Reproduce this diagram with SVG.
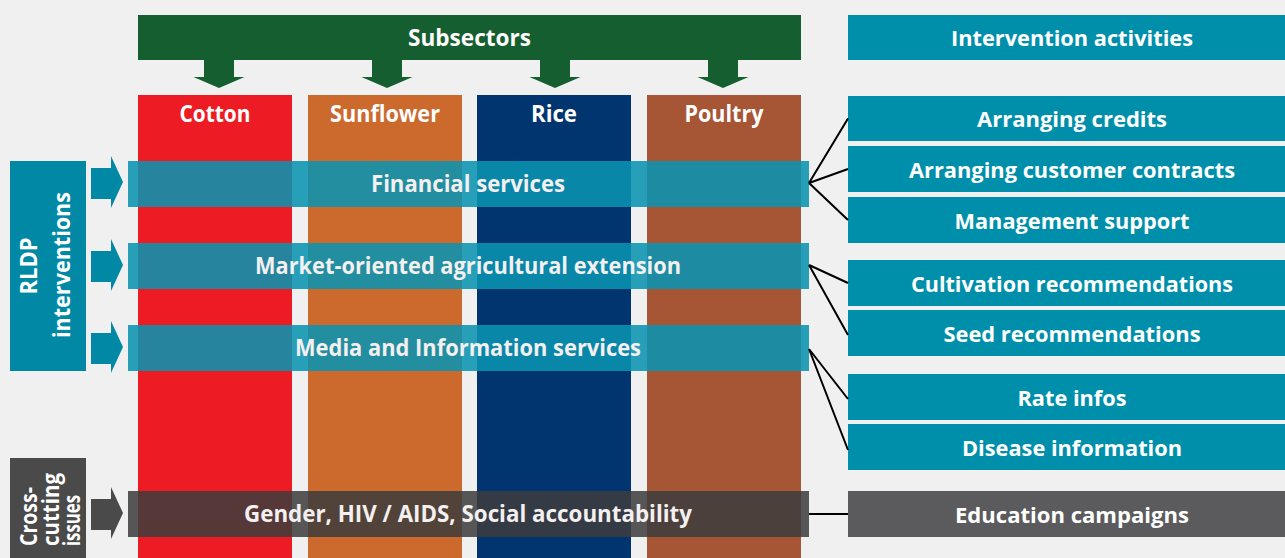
<svg xmlns="http://www.w3.org/2000/svg" width="1285" height="558" viewBox="0 0 1285 558">
  <style>
    .lbl { font-family: "Open Sans", "Liberation Sans", sans-serif; font-weight: 700; font-size: 22px; fill: #ffffff; text-anchor: middle; }
    .big { font-size: 24px; }
    .soft { fill: #f4f0f0; }
    .start { text-anchor: start; }
    .teal { fill: #008faa; }
    .gray { fill: #5b5b5d; }
    .band { fill: #0a93b0; opacity: 0.88; }
    .band-gray { fill: #3c3c3c; opacity: 0.86; }
    .link { stroke: #000000; stroke-width: 2; fill: none; }
  </style>
  <defs>
    <!-- right-pointing block arrow, tip at the origin -->
    <path id="arrowR" d="M-32,-15 H-12 V-27 L0,-1 L-12,25 V16 H-32 Z"/>
    <!-- downward block arrow, tip at the origin -->
    <path id="arrowD" d="M-15,-28 H15 V-11 H25.5 L0,0 L-25.5,-11 H-15 Z" fill="#155e2f"/>
  </defs>

  <rect width="1285" height="558" fill="#f0f0f0"/>

  <!-- subsector header and columns -->
  <g id="subsectors">
    <rect x="138" y="15" width="663" height="45" fill="#155e2f"/>
    <text class="lbl big" x="469.5" y="46" textLength="123" lengthAdjust="spacingAndGlyphs">Subsectors</text>
    <use href="#arrowD" x="219" y="88"/>
    <use href="#arrowD" x="387" y="88"/>
    <use href="#arrowD" x="555" y="88"/>
    <use href="#arrowD" x="723" y="88"/>
  </g>
  <g id="cotton">
    <rect x="138" y="95" width="154" height="463" fill="#ed1c24"/>
    <text class="lbl big" x="215" y="122" textLength="71" lengthAdjust="spacingAndGlyphs">Cotton</text>
  </g>
  <g id="sunflower">
    <rect x="308" y="95" width="154" height="463" fill="#cc6a2e"/>
    <text class="lbl big" x="385" y="122" textLength="110" lengthAdjust="spacingAndGlyphs">Sunflower</text>
  </g>
  <g id="rice">
    <rect x="477" y="95" width="154" height="463" fill="#003570"/>
    <text class="lbl big" x="554" y="122" textLength="46" lengthAdjust="spacingAndGlyphs">Rice</text>
  </g>
  <g id="poultry">
    <rect x="647" y="95" width="154" height="463" fill="#a65535"/>
    <text class="lbl big" x="724" y="122" textLength="79" lengthAdjust="spacingAndGlyphs">Poultry</text>
  </g>

  <!-- left-hand side: intervention groups -->
  <g id="rldp-interventions">
    <rect x="10" y="161" width="76" height="210" fill="#0088a5"/>
    <text class="lbl big" transform="translate(37,266) rotate(-90)" x="0" y="0" textLength="57" lengthAdjust="spacingAndGlyphs">RLDP</text>
    <text class="lbl big" transform="translate(70,265) rotate(-90)" x="0" y="0" textLength="146" lengthAdjust="spacingAndGlyphs">interventions</text>
    <use href="#arrowR" x="123" y="183" fill="#0088a5"/>
    <use href="#arrowR" x="123" y="266" fill="#0088a5"/>
    <use href="#arrowR" x="123" y="348" fill="#0088a5"/>
  </g>
  <g id="cross-cutting">
    <rect x="10" y="458" width="76" height="100" fill="#4a4a4a"/>
    <text class="lbl big start" transform="translate(37,546) rotate(-90)" x="0" y="0" textLength="59" lengthAdjust="spacingAndGlyphs">Cross-</text>
    <text class="lbl big start" transform="translate(59,546) rotate(-90)" x="0" y="0" textLength="73" lengthAdjust="spacingAndGlyphs">cutting</text>
    <text class="lbl big start" transform="translate(80,546) rotate(-90)" x="0" y="0" textLength="51" lengthAdjust="spacingAndGlyphs">issues</text>
    <use href="#arrowR" x="123" y="514" fill="#4a4a4a"/>
  </g>

  <!-- horizontal service bands across the columns -->
  <g id="financial-services">
    <rect class="band" x="128" y="161" width="681" height="46"/>
    <text class="lbl big soft" x="468" y="192" textLength="194" lengthAdjust="spacingAndGlyphs">Financial services</text>
  </g>
  <g id="agricultural-extension">
    <rect class="band" x="128" y="243" width="681" height="46"/>
    <text class="lbl big soft" x="468" y="274" textLength="426" lengthAdjust="spacingAndGlyphs">Market-oriented agricultural extension</text>
  </g>
  <g id="media-information">
    <rect class="band" x="128" y="325" width="681" height="46"/>
    <text class="lbl big soft" x="468" y="356" textLength="346" lengthAdjust="spacingAndGlyphs">Media and Information services</text>
  </g>
  <g id="gender-hiv">
    <rect class="band-gray" x="128" y="491" width="681" height="46"/>
    <text class="lbl big soft" x="468" y="522" textLength="448" lengthAdjust="spacingAndGlyphs">Gender, HIV / AIDS, Social accountability</text>
  </g>

  <!-- right-hand side: activities -->
  <g id="intervention-activities">
    <rect class="teal" x="848" y="15" width="437" height="45"/>
    <text class="lbl" x="1072" y="46" textLength="242" lengthAdjust="spacingAndGlyphs">Intervention activities</text>
  </g>
  <g id="arranging-credits">
    <rect class="teal" x="848" y="96" width="437" height="45"/>
    <text class="lbl" x="1072" y="127" textLength="190" lengthAdjust="spacingAndGlyphs">Arranging credits</text>
  </g>
  <g id="customer-contracts">
    <rect class="teal" x="848" y="146" width="437" height="46"/>
    <text class="lbl" x="1072" y="177.5" textLength="326" lengthAdjust="spacingAndGlyphs">Arranging customer contracts</text>
  </g>
  <g id="management-support">
    <rect class="teal" x="848" y="197" width="437" height="46"/>
    <text class="lbl" x="1072" y="228.5" textLength="235" lengthAdjust="spacingAndGlyphs">Management support</text>
  </g>
  <g id="cultivation-recommendations">
    <rect class="teal" x="848" y="260" width="437" height="46"/>
    <text class="lbl" x="1072" y="291.5" textLength="322" lengthAdjust="spacingAndGlyphs">Cultivation recommendations</text>
  </g>
  <g id="seed-recommendations">
    <rect class="teal" x="848" y="310" width="437" height="46"/>
    <text class="lbl" x="1072" y="341.5" textLength="257" lengthAdjust="spacingAndGlyphs">Seed recommendations</text>
  </g>
  <g id="rate-infos">
    <rect class="teal" x="848" y="374" width="437" height="46"/>
    <text class="lbl" x="1072" y="405.5" textLength="109" lengthAdjust="spacingAndGlyphs">Rate infos</text>
  </g>
  <g id="disease-information">
    <rect class="teal" x="848" y="424" width="437" height="46"/>
    <text class="lbl" x="1072" y="455.5" textLength="220" lengthAdjust="spacingAndGlyphs">Disease information</text>
  </g>
  <g id="education-campaigns">
    <rect class="gray" x="848" y="491" width="437" height="46"/>
    <text class="lbl" x="1072" y="522.5" textLength="234" lengthAdjust="spacingAndGlyphs">Education campaigns</text>
  </g>

  <!-- connectors from bands to activities -->
  <g id="connectors">
    <path class="link" d="M809,183 L848,118.5 M809,183 L848,169 M809,183 L848,220"/>
    <path class="link" d="M809,265 L848,283 M809,265 L848,335"/>
    <path class="link" d="M809,349 L848,399 M809,349 L848,450"/>
    <path class="link" d="M809,514 L848,514"/>
  </g>
</svg>
